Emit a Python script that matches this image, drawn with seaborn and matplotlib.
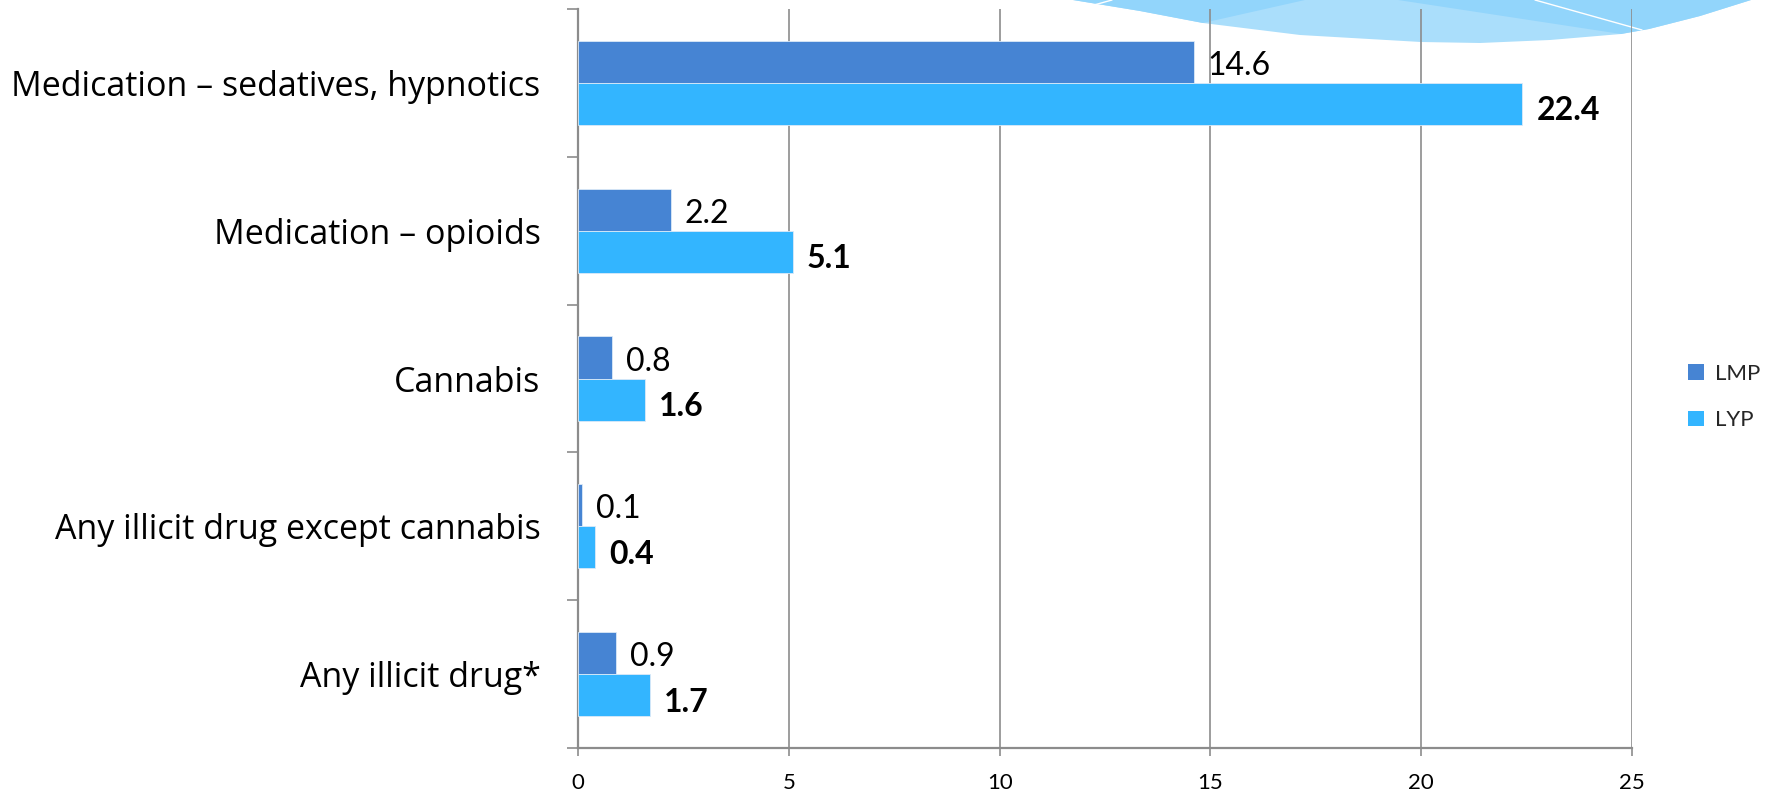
import matplotlib
matplotlib.use("Agg")
import matplotlib.pyplot as plt
import seaborn as sns
import pandas as pd
from matplotlib.patches import Polygon, Patch
from matplotlib.lines import Line2D

# Data
categories = [
    "Medication – sedatives, hypnotics",
    "Medication – opioids",
    "Cannabis",
    "Any illicit drug except cannabis",
    "Any illicit drug*",
]
lmp = [14.6, 2.2, 0.8, 0.1, 0.9]
lyp = [22.4, 5.1, 1.6, 0.4, 1.7]
series = ["LMP", "LYP"]
x_ticks = [0, 5, 10, 15, 20, 25]

colors = {"LMP": "#4684d3", "LYP": "#33b5ff"}

df = pd.DataFrame({
    "category": categories * 2,
    "value": lmp + lyp,
    "group": [series[0]] * len(lmp) + [series[1]] * len(lyp),
})

sns.set_theme(style="white")
plt.rcParams["font.family"] = ["Lato", "DejaVu Sans"]

W, H = 1778, 798
fig = plt.figure(figsize=(W / 100, H / 100), dpi=100)
fig.patch.set_facecolor("white")

# Decorative swoosh in the top-right corner (pixel coords, y measured from top)
def to_fig(pts):
    return [(x / W, 1 - y / H) for x, y in pts]

swoosh = [(1073, 0), (1140, 11), (1203, 23), (1300, 35), (1421, 42), (1480, 43),
          (1550, 40), (1621, 34), (1649, 29), (1700, 16), (1751, 0)]
fig.add_artist(Polygon(to_fig(swoosh), closed=True, transform=fig.transFigure,
                       facecolor="#aadefb", edgecolor="none", zorder=0))
fig.add_artist(Polygon(to_fig([(1073, 0), (1140, 11), (1203, 23), (1305, 0)]), closed=True,
                       transform=fig.transFigure, facecolor="#92d5fb", edgecolor="none", zorder=0))
fig.add_artist(Polygon(to_fig([(1398, 0), (1621, 34), (1649, 29), (1700, 16), (1751, 0)]),
                       closed=True, transform=fig.transFigure, facecolor="#92d5fb",
                       edgecolor="none", zorder=0))
for seg in ([(1094, 5), (1112, 0)], [(1535, 0), (1642, 30)]):
    p = to_fig(seg)
    fig.add_artist(Line2D([p[0][0], p[1][0]], [p[0][1], p[1][1]], transform=fig.transFigure,
                          color="white", lw=1.0, zorder=0.5))

ax = fig.add_axes([578 / W, 1 - 748 / H, (1632 - 578) / W, (748 - 9) / H])
ax.patch.set_alpha(0)
ax.set_zorder(1)

sns.barplot(data=df, y="category", x="value", hue="group", orient="h",
            palette=colors, width=0.57, ax=ax, edgecolor="#dbe9f7", linewidth=0.6,
            saturation=1, zorder=3)

ax.set_xlim(0, 25)
ax.set_ylim(len(categories) - 0.5, -0.5)
ax.set_xticks(x_ticks)
ax.set_xticklabels([str(t) for t in x_ticks], fontsize=16)
ax.set_yticks(range(len(categories)))
ax.set_yticklabels(categories, fontsize=24.5, family=["Open Sans", "DejaVu Sans"])
ax.set_yticks([i - 0.5 for i in range(len(categories) + 1)], minor=True)
ax.tick_params(axis="y", which="major", length=0, pad=27, colors="black")
ax.tick_params(axis="y", which="minor", length=8, width=1.2, color="#8c8c8c", left=True)
ax.tick_params(axis="x", which="major", length=6, width=1.2, color="#8c8c8c",
               pad=12, bottom=True)
for lbl in ax.get_xticklabels():
    lbl.set_color("black")
ax.set_xlabel("")
ax.set_ylabel("")

ax.grid(axis="x", color="#8c8c8c", lw=1.2, zorder=0)
ax.grid(axis="y", visible=False)
for side in ("top", "right"):
    ax.spines[side].set_visible(False)
for side in ("left", "bottom"):
    ax.spines[side].set_color("#8c8c8c")
    ax.spines[side].set_linewidth(1.6)

# Value labels
for container, weight, dy in zip(ax.containers, ("normal", "bold"), (-3, -5)):
    for patch in container:
        v = patch.get_width()
        ax.annotate(f"{v:.1f}", xy=(v, patch.get_y() + patch.get_height() / 2),
                    xytext=(10, dy), textcoords="offset points", ha="left", va="center",
                    fontsize=23, fontweight=weight, color="black", zorder=4)

if ax.get_legend() is not None:
    ax.get_legend().remove()
handles = [Patch(facecolor=colors[s], edgecolor="none") for s in series]
fig.legend(handles, series, loc="center left", bbox_to_anchor=(1688 / W, 1 - 397 / H),
           frameon=False, fontsize=16, handlelength=0.7, handleheight=0.7,
           handletextpad=0.5, labelspacing=1.2, borderpad=0, borderaxespad=0)

fig.savefig("out.png", dpi=100, facecolor="white")
